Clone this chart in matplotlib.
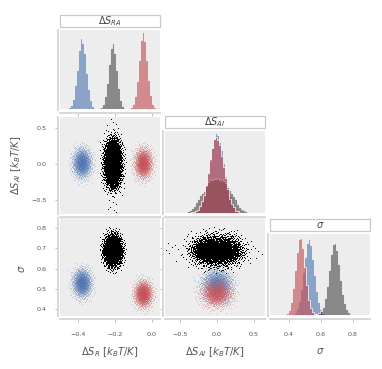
import numpy as np
import matplotlib
matplotlib.use('Agg')
import matplotlib.pyplot as plt
from matplotlib.patches import Rectangle
from matplotlib.colors import to_rgba

plt.rcParams['mathtext.fontset'] = 'dejavusans'

# parameter ranges (axis limits, histogram ranges)
sra_range = (-0.5, 0.045)
sai_range = (-0.7, 0.65)
sig_range = (0.28, 0.91)
sig_ylim = (0.365, 0.85)
n_bins = 50

# number of posterior samples per model
n_samples = {'blue': 1600, 'black': 3000, 'red': 1600}

# diagonal histograms: first bin index, bar heights in % of panel height
sra_blue_start, sra_blue = 4, [1.5, 5, 13, 29, 50, 74, 90, 84, 70, 46, 25, 11, 4, 1.5]
sra_black_start, sra_black = 20, [1.8, 6, 16, 33, 57, 77, 83, 71, 49, 26, 11, 4, 1.2]
sra_red_start, sra_red = 35, [2, 6, 16, 35, 62, 87, 97, 86, 62, 36, 17, 6, 2, 0.5]

sai_blue_start, sai_blue = 13, [0.5, 1, 2, 4, 7, 13, 21, 33, 48, 63, 79, 91, 97, 95, 88,
                                76, 61, 45, 31, 20, 12, 7, 3, 1.5, 0.5]
sai_black_start, sai_black = 0, [0.2, 0.2, 0.2, 0.2, 0.2, 0.2, 0.2, 0.2, 0.5, 0.8, 1.2, 2.5,
                                 4, 6, 8, 13, 17, 21, 24, 27, 33, 38, 41, 40, 42, 41, 42,
                                 40, 41, 39, 36, 32, 28, 24, 20, 16, 11, 7, 4.5, 3, 2, 1.2,
                                 0.8, 0.5, 0.2, 0.2, 0.2, 0.2, 0.2, 0.2]
sai_red_start, sai_red = 13, [0.5, 1, 2, 4, 8, 14, 22, 34, 49, 65, 80, 90, 93, 89, 82,
                              70, 56, 42, 29, 18, 11, 6, 3, 1.5, 0.5]

sig_blue_start, sig_blue = 11, [1.2, 3.5, 8, 18, 32, 52, 72, 88, 94, 87, 70, 49, 30, 16, 7.5, 3, 1.1]
sig_black_start, sig_black = 23, [0.8, 2, 5, 10, 20, 36, 56, 75, 87, 89, 80, 63, 43, 26, 14, 7, 3, 1.2, 0.4]
sig_red_start, sig_red = 7, [0.8, 2.6, 7, 16, 33, 55, 78, 93, 96, 82, 60, 37, 19, 9, 3.3, 1, 0.3]

colors = {'blue': '#4c72b0', 'black': '#000000', 'red': '#c44e52'}
hist_alpha = {'blue': 0.6, 'black': 0.42, 'red': 0.62}
models = ['blue', 'black', 'red']

hists = {
    'blue': [(sra_blue_start, sra_blue), (sai_blue_start, sai_blue), (sig_blue_start, sig_blue)],
    'black': [(sra_black_start, sra_black), (sai_black_start, sai_black), (sig_black_start, sig_black)],
    'red': [(sra_red_start, sra_red), (sai_red_start, sai_red), (sig_red_start, sig_red)],
}
ranges = [sra_range, sai_range, sig_range]


def halton(n, base, skip):
    out = np.zeros(n)
    for k in range(n):
        i = k + skip
        f, r = 1.0, 0.0
        while i > 0:
            f /= base
            r += f * (i % base)
            i //= base
        out[k] = r
    return out


def expand(start, heights, lo, hi, u):
    # spread samples over the read histogram (inverse of its cdf)
    w = (hi - lo) / n_bins
    e = lo + w * np.arange(start, start + len(heights) + 1)
    cdf = np.concatenate([[0], np.cumsum(heights)]) / np.sum(heights)
    return np.interp(u, cdf, e)


samples = {}
for k, m in enumerate(models):
    cols = []
    for p, base in enumerate([2, 3, 5]):
        u = halton(n_samples[m], base, 17 + 131 * k)
        st, h = hists[m][p]
        cols.append(expand(st, h, ranges[p][0], ranges[p][1], u))
    samples[m] = cols

W, H = 382, 369
fig = plt.figure(figsize=(W / 100, H / 100), dpi=100)


def add_ax(x0, x1, y0, y1):
    return fig.add_axes([x0 / W, 1 - y1 / H, (x1 - x0) / W, (y1 - y0) / H])


def style(ax):
    ax.set_facecolor('#ededed')
    for s in ['top', 'right']:
        ax.spines[s].set_visible(False)
    for s in ['left', 'bottom']:
        ax.spines[s].set_color('#d8d8d8')
        ax.spines[s].set_linewidth(1.4)
        ax.spines[s].set_position(('outward', 1.8))
    ax.tick_params(length=2, width=0.7, color='#bdbdbd', labelsize=4.6,
                   labelcolor='#555555')
    ax.tick_params(axis='x', pad=8)
    ax.tick_params(axis='y', pad=6)


def title_box(x0, x1, top, txt):
    fig.patches.append(Rectangle((x0 / W, 1 - (top - 3) / H), (x1 - x0) / W, 12 / H,
                                 transform=fig.transFigure, facecolor='white',
                                 edgecolor='#c8c8c8', lw=0.9))
    fig.text((x0 + x1) / 2 / W, 1 - (top - 9) / H, txt, ha='center', va='center',
             fontsize=7, color='#444444')


cols_px = [(60, 160), (165, 265), (270, 370)]
rows_px = [(30, 110), (117, 214), (218, 316)]
hist_tops = [30, 131, 234]
titles = [r'$\Delta S_{RA}$', r'$\Delta S_{AI}$', r'$\sigma$']
lims = [sra_range, sai_range, sig_range]
ticks = [[-0.4, -0.2, 0.0], [-0.5, 0.0, 0.5], [0.4, 0.6, 0.8]]
row_lims = [None, sai_range, sig_ylim]
row_ticks = [None, [-0.5, 0.0, 0.5], [0.4, 0.5, 0.6, 0.7, 0.8]]

for i in range(3):
    for j in range(i + 1):
        x0, x1 = cols_px[j]
        y0, y1 = rows_px[i]
        if i == j:
            ax = add_ax(x0, x1, hist_tops[i], y1)
            style(ax)
            edges = np.linspace(lims[i][0], lims[i][1], n_bins + 1)
            for m in models:
                st, h = hists[m][i]
                w = np.full(n_samples[m], np.sum(h) / n_samples[m])
                ax.hist(samples[m][i], bins=edges, weights=w, histtype='stepfilled',
                        facecolor=to_rgba(colors[m], hist_alpha[m]), edgecolor='white', lw=0.5)
            ax.set_xlim(lims[i])
            ax.set_ylim(-1.5, 100)
            ax.set_yticks([])
            ax.set_xticks(ticks[i])
            title_box(x0, x1, hist_tops[i], titles[i])
        else:
            ax = add_ax(x0, x1, y0, y1)
            style(ax)
            for m in models:
                if m == 'black':
                    ax.plot(samples[m][j], samples[m][i], ',', color='black')
                else:
                    ax.plot(samples[m][j], samples[m][i], ',', color=colors[m], alpha=0.32)
            ax.set_xlim(lims[j])
            ax.set_ylim(row_lims[i])
            ax.set_xticks(ticks[j])
            ax.set_yticks(row_ticks[i])
        if i < 2:
            ax.tick_params(axis='x', labelbottom=False)
        if j > 0 or i == 0:
            ax.tick_params(axis='y', labelleft=False)

lab = dict(fontsize=7.2, color='#555555', ha='center', va='center')
fig.text(110 / W, 1 - 352 / H, r'$\Delta S_R\ [k_BT/K]$', **lab)
fig.text(215 / W, 1 - 352 / H, r'$\Delta S_{AI}\ [k_BT/K]$', **lab)
fig.text(320 / W, 1 - 351 / H, r'$\sigma$', **lab)
fig.text(16 / W, 1 - 165 / H, r'$\Delta S_{AI}\ [k_BT/K]$', rotation=90, **lab)
fig.text(22 / W, 1 - 269 / H, r'$\sigma$', rotation=90, **lab)

plt.savefig('out.png', dpi=100)
